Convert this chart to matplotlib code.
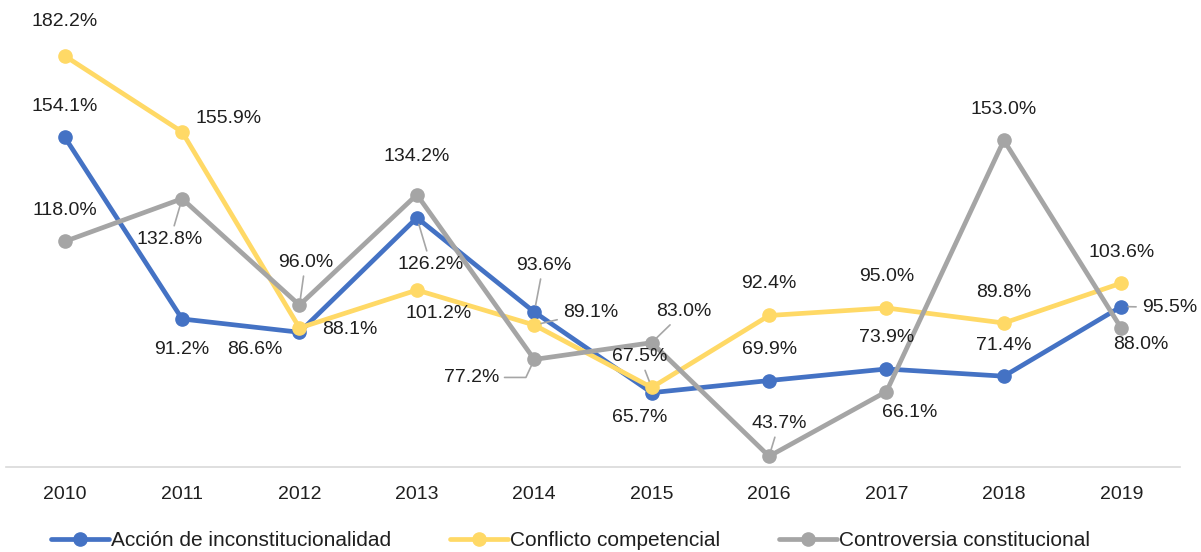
import matplotlib
matplotlib.use("Agg")
import matplotlib.pyplot as plt

plt.rcParams['font.family'] = ['Liberation Sans', 'DejaVu Sans']

years = ["2010", "2011", "2012", "2013", "2014", "2015", "2016", "2017", "2018", "2019"]
accion = [154.1, 91.2, 86.6, 126.2, 93.6, 65.7, 69.9, 73.9, 71.4, 95.5]
conflicto = [182.2, 155.9, 88.1, 101.2, 89.1, 67.5, 92.4, 95.0, 89.8, 103.6]
controversia = [118.0, 132.8, 96.0, 134.2, 77.2, 83.0, 43.7, 66.1, 153.0, 88.0]
names = ["Acción de inconstitucionalidad", "Conflicto competencial", "Controversia constitucional"]
colors = ["#4472C4", "#FFD966", "#A5A5A5"]

# label offsets in pixels (dx, dy) and whether a leader line is drawn
off_accion = [(0, 31, 0), (0, -31, 0), (-45, -17, 0), (14, -47, 1), (9, 47, 1),
              (-12, -25, 0), (0, 31, 0), (0, 31, 0), (0, 31, 0), (48, -1, 1)]
off_conflicto = [(0, 34, 0), (46, 13, 0), (50, -2, 0), (22, -23, 0), (56, 13, 1),
                 (-12, 31, 1), (0, 32, 0), (0, 31, 0), (0, 31, 0), (0, 31, 0)]
off_controv = [(0, 31, 0), (-12, -41, 1), (6, 43, 1), (0, 38, 0), (-63, -18, 2),
               (32, 31, 1), (10, 33, 1), (23, -21, 0), (0, 31, 0), (20, -16, 0)]

fig = plt.figure(figsize=(12.01, 5.52), dpi=100)
ax = fig.add_axes([0.005, 0.154, 0.9775, 0.838])
x = list(range(len(years)))

series = [(accion, off_accion), (conflicto, off_conflicto), (controversia, off_controv)]
for (vals, offs), name, c in zip(series, names, colors):
    ax.plot(x, vals, color=c, lw=3.4, marker='o', ms=9.5, label=name, solid_capstyle='round', zorder=3)

for (vals, offs), c in zip(series, colors):
    for xi, v, (dx, dy, lead) in zip(x, vals, offs):
        kw = {}
        if lead == 1:
            kw['arrowprops'] = dict(arrowstyle='-', color='#A6A6A6', lw=1.2, shrinkA=2, shrinkB=5)
        elif lead == 2:
            kw['arrowprops'] = dict(arrowstyle='-', color='#A6A6A6', lw=1.2, shrinkA=2, shrinkB=5,
                                    relpos=(1, 0.5), connectionstyle='angle,angleA=0,angleB=65,rad=0')
        ax.annotate(f"{v:.1f}%", (xi, v), xytext=(dx, dy), textcoords='offset pixels',
                    ha='center', va='center', fontsize=14, color='#1F1F1F', zorder=5, **kw)

ax.set_xlim(-0.5, len(years) - 0.5)
ax.set_ylim(40, 200)
ax.set_xticks(x)
ax.set_xticklabels(years, fontsize=14, color='#1F1F1F')
ax.set_yticks([])
for s in ['top', 'right', 'left']:
    ax.spines[s].set_visible(False)
ax.spines['bottom'].set_color('#D9D9D9')
ax.spines['bottom'].set_linewidth(1.2)
ax.tick_params(axis='x', length=0, pad=14)

fig.legend(loc='center', bbox_to_anchor=(0.475, 1 - 541 / 552), ncol=3, frameon=False,
           fontsize=15, handlelength=2.8, handletextpad=0.1, columnspacing=2.8,
           labelcolor='#1F1F1F')

fig.savefig("out.png", dpi=100)
